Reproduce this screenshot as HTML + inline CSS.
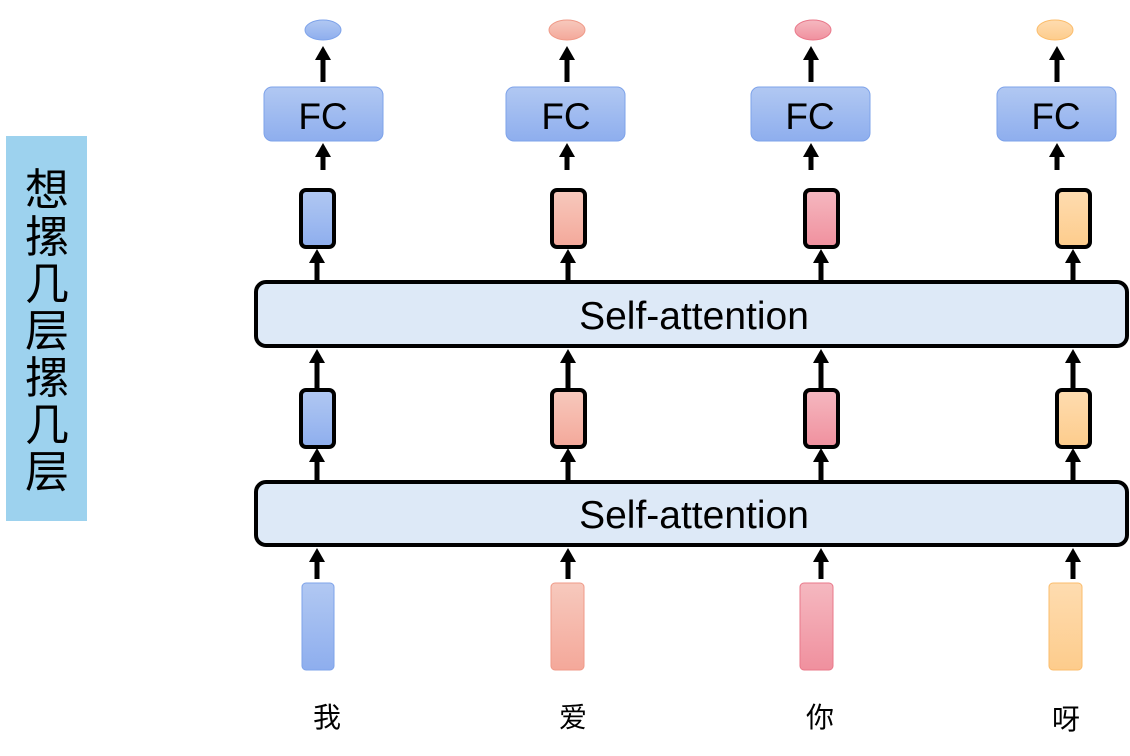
<!DOCTYPE html>
<html><head><meta charset="utf-8"><style>
html,body{margin:0;padding:0;background:#fff;width:1130px;height:756px;overflow:hidden}
svg{display:block}
text{font-family:"Liberation Sans","Noto Sans CJK SC",sans-serif}
</style></head><body>
<svg width="1130" height="756" viewBox="0 0 1130 756" xmlns="http://www.w3.org/2000/svg">
<defs>
<linearGradient id="gb" x1="0" y1="0" x2="0" y2="1"><stop offset="0" stop-color="#b1c8f2"/><stop offset="1" stop-color="#8eaeee"/></linearGradient>
<linearGradient id="gr" x1="0" y1="0" x2="0" y2="1"><stop offset="0" stop-color="#f7c9bd"/><stop offset="1" stop-color="#f4a89a"/></linearGradient>
<linearGradient id="gp" x1="0" y1="0" x2="0" y2="1"><stop offset="0" stop-color="#f5b8c0"/><stop offset="1" stop-color="#f0909e"/></linearGradient>
<linearGradient id="go" x1="0" y1="0" x2="0" y2="1"><stop offset="0" stop-color="#fedcb0"/><stop offset="1" stop-color="#fdcc8c"/></linearGradient>
<g id="ah"><polygon points="0,0 -8,14 8,14" fill="#000"/></g>
</defs>

<rect x="6" y="136" width="81" height="385" fill="#9dd2ee"/>
<g font-size="44" text-anchor="middle" fill="#000">
<text x="47" y="205">想</text><text x="47" y="252">摞</text><text x="47" y="299">几</text><text x="47" y="346">层</text><text x="47" y="393">摞</text><text x="47" y="440">几</text><text x="47" y="487">层</text>
</g>

<ellipse cx="323" cy="30" rx="18" ry="10" fill="url(#gb)" stroke="#7ea3ea" stroke-width="1"/>
<ellipse cx="567" cy="30" rx="18" ry="10" fill="url(#gr)" stroke="#ef9a88" stroke-width="1"/>
<ellipse cx="813" cy="30" rx="18" ry="10" fill="url(#gp)" stroke="#e9788a" stroke-width="1"/>
<ellipse cx="1055" cy="30" rx="18" ry="10" fill="url(#go)" stroke="#fbbd6c" stroke-width="1"/>

<g stroke="#7ea3ea" stroke-width="1" fill="url(#gb)">
<rect x="264" y="87" width="119" height="54" rx="8"/>
<rect x="506" y="87" width="119" height="54" rx="8"/>
<rect x="751" y="87" width="119" height="54" rx="8"/>
<rect x="997" y="87" width="119" height="54" rx="8"/>
</g>
<g font-size="37" text-anchor="middle" fill="#000">
<text x="323" y="129">FC</text><text x="566" y="129">FC</text><text x="810" y="129">FC</text><text x="1056" y="129">FC</text>
</g>

<g stroke="#000" stroke-width="5">
<line x1="323" y1="82" x2="323" y2="56"/><line x1="567" y1="82" x2="567" y2="56"/><line x1="811" y1="82" x2="811" y2="56"/><line x1="1057" y1="82" x2="1057" y2="56"/>
<line x1="323" y1="170" x2="323" y2="152"/><line x1="567" y1="170" x2="567" y2="152"/><line x1="811" y1="170" x2="811" y2="152"/><line x1="1057" y1="170" x2="1057" y2="152"/>
<line x1="317" y1="281" x2="317" y2="260"/><line x1="568" y1="281" x2="568" y2="260"/><line x1="821" y1="281" x2="821" y2="260"/><line x1="1073" y1="281" x2="1073" y2="260"/>
<line x1="317" y1="389" x2="317" y2="360"/><line x1="568" y1="389" x2="568" y2="360"/><line x1="821" y1="389" x2="821" y2="360"/><line x1="1073" y1="389" x2="1073" y2="360"/>
<line x1="317" y1="481" x2="317" y2="460"/><line x1="568" y1="481" x2="568" y2="460"/><line x1="821" y1="481" x2="821" y2="460"/><line x1="1073" y1="481" x2="1073" y2="460"/>
<line x1="317" y1="579" x2="317" y2="560"/><line x1="568" y1="579" x2="568" y2="560"/><line x1="821" y1="579" x2="821" y2="560"/><line x1="1073" y1="579" x2="1073" y2="560"/>
</g>
<use href="#ah" x="323" y="46"/><use href="#ah" x="567" y="46"/><use href="#ah" x="811" y="46"/><use href="#ah" x="1057" y="46"/>
<use href="#ah" x="323" y="143"/><use href="#ah" x="567" y="143"/><use href="#ah" x="811" y="143"/><use href="#ah" x="1057" y="143"/>
<use href="#ah" x="317" y="249"/><use href="#ah" x="568" y="249"/><use href="#ah" x="821" y="249"/><use href="#ah" x="1073" y="249"/>
<use href="#ah" x="317" y="349"/><use href="#ah" x="568" y="349"/><use href="#ah" x="821" y="349"/><use href="#ah" x="1073" y="349"/>
<use href="#ah" x="317" y="448"/><use href="#ah" x="568" y="448"/><use href="#ah" x="821" y="448"/><use href="#ah" x="1073" y="448"/>
<use href="#ah" x="317" y="548"/><use href="#ah" x="568" y="548"/><use href="#ah" x="821" y="548"/><use href="#ah" x="1073" y="548"/>

<g stroke="#000" stroke-width="4">
<rect x="301" y="190" width="33" height="57" rx="5" fill="url(#gb)"/>
<rect x="552" y="190" width="33" height="57" rx="5" fill="url(#gr)"/>
<rect x="805" y="190" width="33" height="57" rx="5" fill="url(#gp)"/>
<rect x="1057" y="190" width="33" height="57" rx="5" fill="url(#go)"/>
<rect x="301" y="390" width="33" height="57" rx="5" fill="url(#gb)"/>
<rect x="552" y="390" width="33" height="57" rx="5" fill="url(#gr)"/>
<rect x="805" y="390" width="33" height="57" rx="5" fill="url(#gp)"/>
<rect x="1057" y="390" width="33" height="57" rx="5" fill="url(#go)"/>
</g>

<g stroke="#000" stroke-width="4" fill="#dde9f7">
<rect x="256" y="282" width="871" height="64" rx="10"/>
<rect x="256" y="482" width="871" height="63" rx="10"/>
</g>
<g font-size="39" text-anchor="middle" fill="#000">
<text x="694" y="329">Self-attention</text>
<text x="694" y="528">Self-attention</text>
</g>

<rect x="302" y="583" width="32" height="87" rx="4" fill="url(#gb)" stroke="#7ea3ea"/>
<rect x="551" y="583" width="33" height="87" rx="4" fill="url(#gr)" stroke="#ef9a88"/>
<rect x="800" y="583" width="33" height="87" rx="4" fill="url(#gp)" stroke="#e9788a"/>
<rect x="1049" y="583" width="33" height="87" rx="4" fill="url(#go)" stroke="#fbbd6c"/>

<g font-size="28" text-anchor="middle" fill="#000">
<text x="327" y="727">我</text><text x="573" y="727">爱</text><text x="820" y="727">你</text><text x="1066" y="729">呀</text>
</g>
</svg>
</body></html>
